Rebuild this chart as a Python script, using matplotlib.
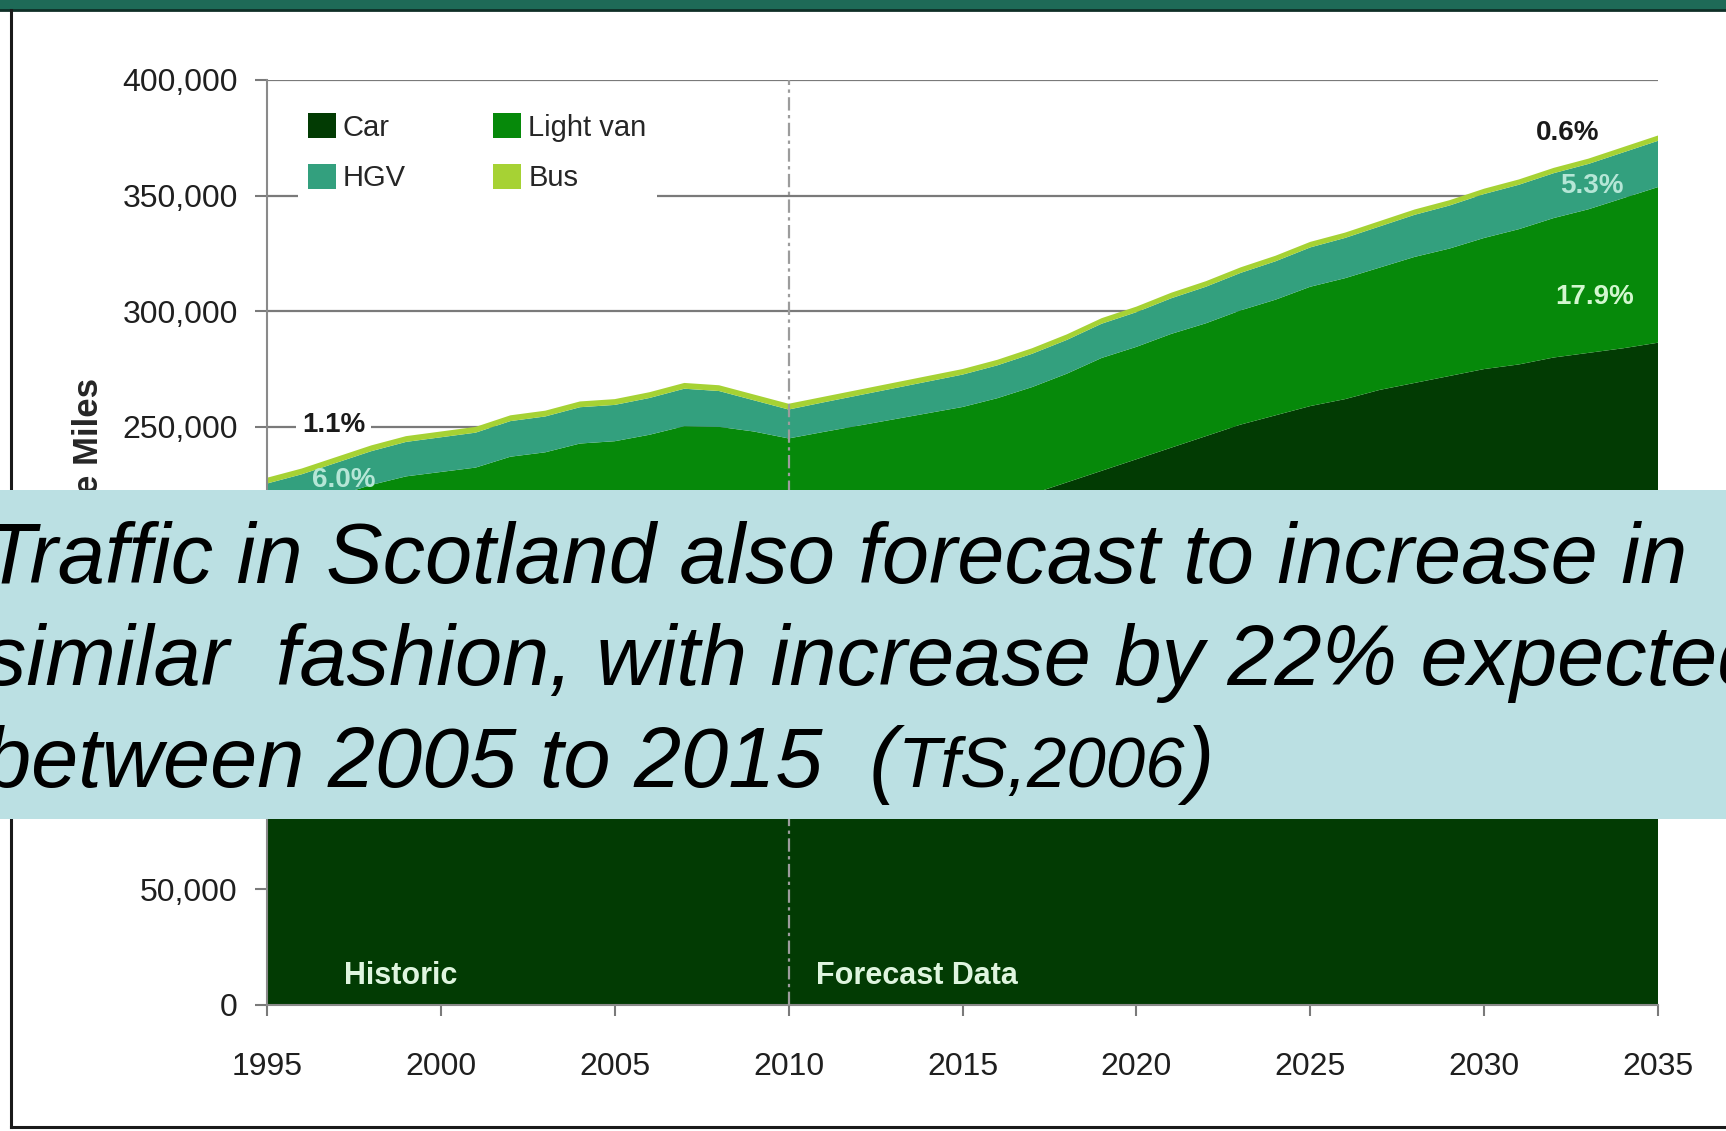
import matplotlib
matplotlib.use("Agg")
import matplotlib.pyplot as plt
from matplotlib.patches import Rectangle, Patch
from matplotlib.ticker import FuncFormatter
import numpy as np

# vehicle miles (thousands) by vehicle type, historic to 2010 then forecast
years = list(range(1995, 2036))
car = [186, 189, 192, 195, 197, 198, 199, 202, 203, 205,
       205, 206, 208, 207, 205, 202, 203, 205, 207, 209,
       212, 216, 221, 226, 231, 236, 241, 246, 251, 255,
       259, 262, 266, 269, 272, 275, 277, 280, 282, 284, 286.4]
light_van = [25.8, 26.5, 28.2, 29.9, 31.6, 32.5, 33.4, 35.1, 36.0, 37.8,
             38.8, 40.6, 42.3, 43.0, 43.0, 43.0, 44.8, 45.5, 46.2, 46.9,
             46.6, 46.4, 46.2, 47.0, 48.8, 48.6, 49.2, 48.8, 49.4, 50.0,
             51.6, 52.3, 52.9, 54.5, 55.1, 56.7, 58.5, 60.3, 62.1, 64.9, 67.3]
hgv = [13.7, 14.0, 14.3, 14.6, 14.9, 15.0, 15.1, 15.4, 15.5, 15.7,
       15.7, 15.9, 16.2, 15.5, 13.5, 12.5, 12.8, 13.1, 13.4, 13.7,
       14.0, 14.2, 14.4, 14.6, 14.8, 15.0, 15.4, 15.8, 16.2, 16.6,
       17.0, 17.4, 17.8, 18.2, 18.6, 19.0, 19.2, 19.4, 19.6, 19.8, 20.0]
bus = [2.5] * 16 + [2.4] * 15 + [2.3] * 10

labels = ["Car", "Light van", "HGV", "Bus"]
colours = ["#023b03", "#06890a", "#33a07e", "#a6d234"]
y_ticks = list(range(0, 400001, 50000))
x_ticks = list(range(1995, 2036, 5))

W, H = 1726, 1131


def fx(px):
    return px / W


def fy(py):
    return 1 - py / H


fig = plt.figure(figsize=(W / 100, H / 100), dpi=100)
fig.patch.set_facecolor("white")
plt.rcParams["font.family"] = ["Liberation Sans", "DejaVu Sans"]

ax = fig.add_axes([fx(267), fy(1005), fx(1658) - fx(267), fy(80) - fy(1005)])
series = np.array([car, light_van, hgv, bus]) * 1000
ax.stackplot(years, series, colors=colours, linewidth=0, zorder=2)

ax.set_xlim(1995, 2035)
ax.set_ylim(0, 400000)
ax.set_xticks(x_ticks)
ax.set_yticks(y_ticks)
ax.yaxis.set_major_formatter(FuncFormatter(lambda v, p: f"{int(v):,}"))
ax.set_axisbelow(True)
ax.yaxis.grid(True, color="#7a7a7a", linewidth=1.6)
ax.xaxis.grid(False)
for s in ["top", "right"]:
    ax.spines[s].set_visible(False)
for s in ["left", "bottom"]:
    ax.spines[s].set_color("#8a8a8a")
    ax.spines[s].set_linewidth(1.5)
ax.tick_params(axis="y", direction="out", length=9, width=1.5, color="#7a7a7a",
               pad=12, labelsize=23, labelcolor="#1f1f1f")
ax.tick_params(axis="x", direction="out", length=8, width=1.5, color="#7a7a7a",
               pad=26, labelsize=23, labelcolor="#1f1f1f")

# historic / forecast split
ax.axvline(2010, color="#9c9c9c", linewidth=1.6, linestyle=(0, (6, 2, 1.5, 2)), zorder=3)
ax.text(1997.2, 12500, "Historic", color="#dff5df", fontsize=22, fontweight="bold",
        va="center", zorder=4)
ax.text(2010.8, 12500, "Forecast Data", color="#dff5df", fontsize=22, fontweight="bold",
        va="center", zorder=4)

# shares of total in first and last year
total = series.sum(axis=0)
share0 = series[:, 0] / total[0] * 100
share1 = series[:, -1] / total[-1] * 100
ax.text(1996.0, 251000, f"{share0[3]:.1f}%", fontsize=20, fontweight="bold", color="#1a1a1a",
        va="center", zorder=4, bbox=dict(facecolor="white", edgecolor="none", pad=4))
ax.text(1996.3, 227000, f"{share0[2]:.1f}%", fontsize=20, fontweight="bold", color="#b5e6d6",
        va="center", zorder=4)
ax.text(2033.3, 377000, f"{share1[3]:.1f}%", fontsize=20, fontweight="bold", color="#1a1a1a",
        va="center", ha="right", zorder=4)
ax.text(2034.0, 354000, f"{share1[2]:.1f}%", fontsize=20, fontweight="bold", color="#b5e6d6",
        va="center", ha="right", zorder=4)
ax.text(2034.3, 306000, f"{share1[1]:.1f}%", fontsize=20, fontweight="bold", color="#d2f7cf",
        va="center", ha="right", zorder=4)

handles = [Patch(facecolor=c, edgecolor="none") for c in colours]
order = [0, 2, 1, 3]
leg = ax.legend([handles[i] for i in order], [labels[i] for i in order], ncol=2,
                loc="upper left", bbox_to_anchor=(0.022, 0.975), borderaxespad=0,
                fontsize=21, frameon=True, facecolor="white", edgecolor="none",
                framealpha=1, handlelength=0.95, handleheight=0.95, handletextpad=0.25,
                labelspacing=0.75, columnspacing=3.0, borderpad=0.35)
leg.set_zorder(5)
for t in leg.get_texts():
    t.set_color("#262626")

fig.text(fx(88), fy(546), "Million Vehicle Miles", rotation=90, ha="center", va="center",
         fontsize=25, fontweight="bold", color="#262626")

# frame around the chart
fig.add_artist(Rectangle((0, fy(10)), 1, fy(0) - fy(10), transform=fig.transFigure,
                         facecolor="#1e6a57", edgecolor="none", zorder=1))
fig.add_artist(plt.Line2D([0, 1], [fy(10), fy(10)], transform=fig.transFigure,
                          color="#0f2f27", linewidth=2, zorder=1))
fig.add_artist(plt.Line2D([fx(11), fx(11)], [fy(10), fy(1127)], transform=fig.transFigure,
                          color="#1a1a1a", linewidth=2.2, zorder=1))
fig.add_artist(plt.Line2D([fx(11), 1], [fy(1127), fy(1127)], transform=fig.transFigure,
                          color="#1a1a1a", linewidth=2.2, zorder=1))

# caption banner
fig.add_artist(Rectangle((0, fy(819)), 1, fy(490) - fy(819), transform=fig.transFigure,
                         facecolor="#bbe0e3", edgecolor="none", zorder=10))
big = dict(fontsize=61, style="italic", color="black", zorder=11, va="baseline", ha="left")
x0 = fx(-16)
fig.text(x0, fy(583), "Traffic in Scotland also forecast to increase in", **big)
fig.text(x0, fy(685), "similar  fashion, with increase by 22% expected", **big)
t1 = fig.text(x0, fy(787), "between 2005 to 2015  (", **big)
renderer = fig.canvas.get_renderer()
bb = t1.get_window_extent(renderer)
t2 = fig.text(bb.x1 / W, fy(787), "TfS,2006", fontsize=51, style="italic", color="black",
              zorder=11, va="baseline", ha="left")
bb2 = t2.get_window_extent(renderer)
fig.text(bb2.x1 / W, fy(787), ")", **big)

fig.savefig("out.png", dpi=100)
